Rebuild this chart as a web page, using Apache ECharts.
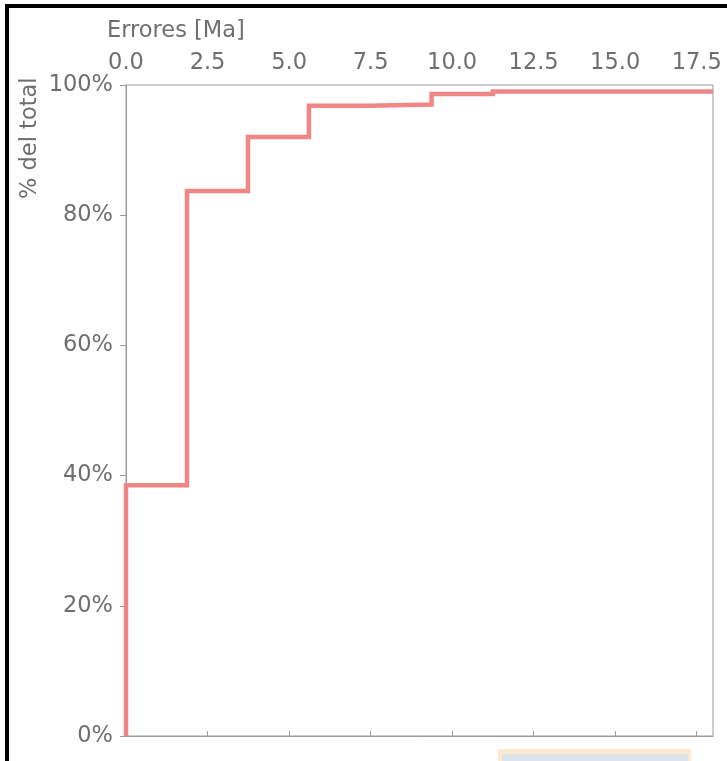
<!DOCTYPE html>
<html>
<head>
<meta charset="utf-8">
<script src="https://cdn.jsdelivr.net/npm/echarts@6/dist/echarts.min.js"></script>
<style>
html,body{margin:0;padding:0;background:#fff;}
#chart{width:727px;height:761px;}
</style>
</head>
<body>
<div id="chart"></div>
<script>
// Bin edges (Ma) of the cumulative step histogram, and cumulative % per bin
const binEdges = [0, 1.87, 3.74, 5.61, 7.48, 9.37, 11.25, 18];
const cumPercent = [38.5, 83.7, 92.0, 96.8, 97.0, 98.6, 99.0];
const xTicks = [0, 2.5, 5, 7.5, 10, 12.5, 15, 17.5];
const yTicks = [0, 20, 40, 60, 80, 100];
const xTitle = 'Errores [Ma]';
const yTitle = '% del total';

const stepData = [[binEdges[0], 0]];
for (let i = 0; i < cumPercent.length; i++) {
  stepData.push([binEdges[i], cumPercent[i]]);
  stepData.push([binEdges[i + 1], cumPercent[i]]);
}

const textColor = '#6e6e6e';
const axisColor = '#9a9a9a';
const font = 'DejaVu Sans';
const fs = 22.5;

const chart = echarts.init(document.getElementById('chart'), null, {renderer: 'canvas'});
chart.setOption({
  animation: false,
  backgroundColor: '#ffffff',
  grid: {left: 126, top: 85, right: 14, bottom: 25, show: true, borderColor: axisColor, borderWidth: 1, backgroundColor: 'transparent'},
  xAxis: {
    type: 'value', position: 'top', min: 0, max: 18, interval: 2.5,
    axisLine: {show: true, lineStyle: {color: axisColor, width: 1}},
    axisTick: {show: true, inside: false, length: 5, lineStyle: {color: axisColor}, customValues: xTicks},
    splitLine: {show: false},
    axisLabel: {color: textColor, fontFamily: font, fontSize: fs, margin: 10, customValues: xTicks,
      formatter: v => v.toFixed(1)}
  },
  yAxis: {
    type: 'value', min: 0, max: 100, interval: 20,
    axisLine: {show: true, lineStyle: {color: axisColor, width: 1}},
    axisTick: {show: true, inside: false, length: 6, lineStyle: {color: axisColor}, customValues: yTicks},
    splitLine: {show: false},
    axisLabel: {color: textColor, fontFamily: font, fontSize: fs, margin: 13, customValues: yTicks, formatter: '{value}%'}
  },
  series: [{
    type: 'line',
    data: stepData,
    showSymbol: false,
    symbol: 'none',
    clip: true,
    lineStyle: {color: '#f08080', width: 4.5, opacity: 0.95, join: 'miter'}
  }],
  graphic: [
    {type: 'text', x: 107, y: 31, style: {text: xTitle, fill: textColor, font: fs + 'px "DejaVu Sans"', textAlign: 'left', textVerticalAlign: 'middle'}},
    {type: 'text', x: 19, y: 199, rotation: Math.PI / 2, style: {text: yTitle, fill: textColor, font: fs + 'px "DejaVu Sans"', textAlign: 'left', textVerticalAlign: 'top'}},
    {type: 'rect', shape: {x: 5, y: 4, width: 4, height: 757}, style: {fill: '#000'}},
    {type: 'rect', shape: {x: 5, y: 4, width: 722, height: 4}, style: {fill: '#000'}},
    {type: 'rect', shape: {x: 498, y: 749, width: 193, height: 14}, style: {fill: '#fdebd0'}},
    {type: 'rect', shape: {x: 502, y: 754, width: 186, height: 10}, style: {fill: '#dde3ea'}}
  ]
});
</script>
</body>
</html>
